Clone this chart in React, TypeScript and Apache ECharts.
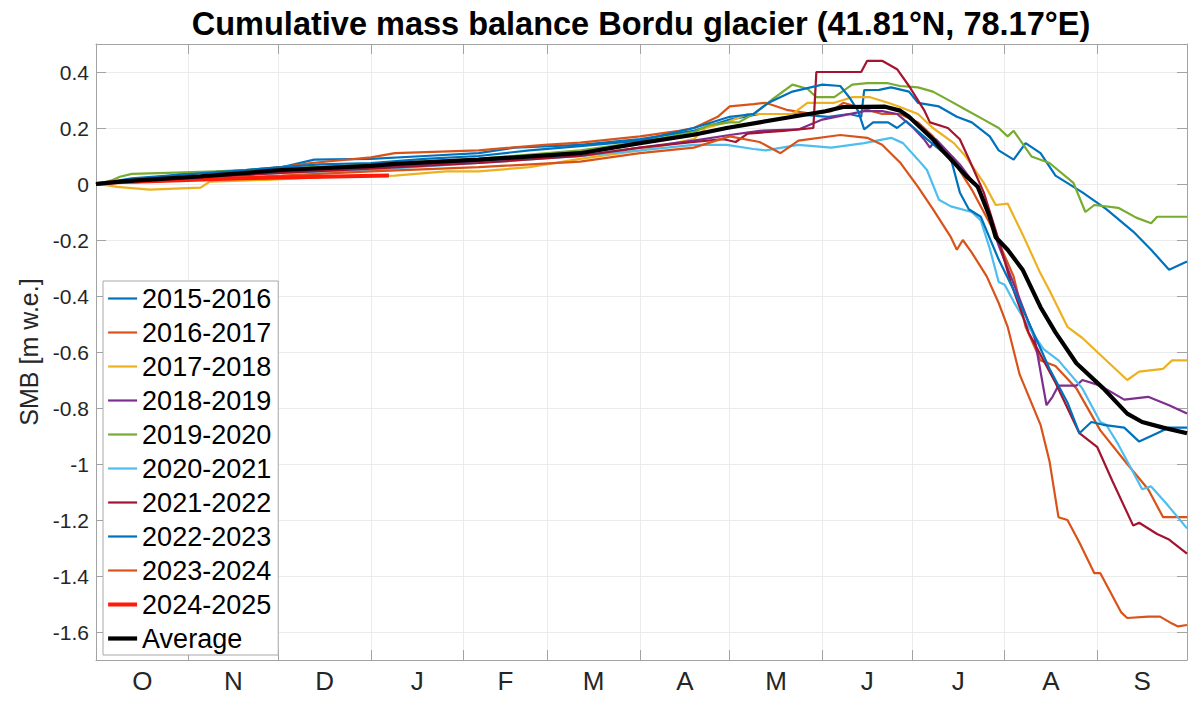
import React, { useEffect, useRef } from "react";
import * as echarts from "echarts";

// days counted from 1 October
const monthLabels = ["O", "N", "D", "J", "F", "M", "A", "M", "J", "J", "A", "S"];
const monthStarts = [0, 31, 61, 92, 123, 151, 182, 212, 243, 273, 304, 335, 365];
const yTicks = [-1.6, -1.4, -1.2, -1, -0.8, -0.6, -0.4, -0.2, 0, 0.2, 0.4];

const smb2015 = [
  [0, 0], [12, 0.015], [25, 0.03], [31, 0.04], [45, 0.045], [62, 0.06], [73, 0.087], [92, 0.09],
  [110, 0.1], [128, 0.11], [140, 0.13], [162, 0.14], [182, 0.16], [200, 0.19], [212, 0.23],
  [222, 0.25], [233, 0.25], [245, 0.24], [252, 0.25], [256, 0.24], [257, 0.335], [262, 0.336],
  [266, 0.345], [272, 0.33], [275, 0.29], [282, 0.277], [288, 0.24], [293, 0.22], [299, 0.17],
  [302, 0.12], [307, 0.087], [311, 0.146], [316, 0.11], [321, 0.03], [330, -0.03], [338, -0.09],
  [347, -0.17], [353, -0.235], [359, -0.306], [365, -0.277],
];
const smb2016 = [
  [0, 0], [10, 0.01], [31, 0.025], [50, 0.045], [62, 0.06], [72, 0.075], [92, 0.095], [100, 0.11],
  [128, 0.12], [150, 0.14], [162, 0.148], [182, 0.17], [195, 0.19], [200, 0.2], [208, 0.24],
  [212, 0.277], [220, 0.285], [224, 0.29], [231, 0.265], [240, 0.25], [246, 0.26], [250, 0.29],
  [258, 0.265], [263, 0.25], [269, 0.25], [275, 0.22], [280, 0.17], [286, 0.098], [293, -0.02],
  [300, -0.16], [307, -0.33], [311, -0.51], [316, -0.63], [321, -0.65], [328, -0.73], [336, -0.88],
  [345, -1.0], [352, -1.09], [357, -1.19], [365, -1.19],
];
const smb2017 = [
  [0, 0], [4, -0.005], [7, -0.01], [18, -0.02], [35, -0.013], [38, 0.008], [57, 0.015], [79, 0.026],
  [100, 0.03], [117, 0.045], [128, 0.045], [145, 0.06], [162, 0.09], [182, 0.12], [200, 0.16],
  [204, 0.2], [211, 0.22], [218, 0.25], [225, 0.25], [233, 0.25], [238, 0.29], [247, 0.29],
  [253, 0.31], [259, 0.31], [265, 0.29], [269, 0.275], [275, 0.25], [280, 0.2], [287, 0.146],
  [291, 0.098], [297, 0.004], [301, -0.075], [305, -0.07], [310, -0.18], [316, -0.32], [319, -0.38],
  [325, -0.51], [330, -0.55], [339, -0.64], [345, -0.7], [349, -0.67], [357, -0.66], [360, -0.63],
  [365, -0.63],
];
const smb2018 = [
  [0, 0], [15, 0.01], [31, 0.02], [50, 0.035], [62, 0.045], [92, 0.06], [128, 0.08], [162, 0.1],
  [182, 0.13], [200, 0.155], [212, 0.175], [222, 0.19], [235, 0.195], [243, 0.23], [257, 0.26],
  [263, 0.26], [268, 0.25], [273, 0.205], [277, 0.16], [279, 0.13], [281, 0.16], [289, 0.07],
  [296, -0.03], [302, -0.22], [309, -0.41], [314, -0.55], [318, -0.79], [320, -0.76], [322, -0.72],
  [328, -0.72], [330, -0.7], [336, -0.72], [344, -0.77], [352, -0.76], [359, -0.79], [365, -0.82],
];
const smb2019 = [
  [0, 0], [5, 0.012], [8, 0.026], [12, 0.036], [24, 0.04], [40, 0.045], [62, 0.055], [92, 0.07],
  [128, 0.09], [162, 0.12], [182, 0.15], [200, 0.185], [205, 0.21], [212, 0.22], [215, 0.22],
  [220, 0.25], [226, 0.3], [233, 0.355], [238, 0.34], [241, 0.31], [247, 0.31], [253, 0.355],
  [258, 0.36], [265, 0.36], [269, 0.35], [275, 0.345], [280, 0.33], [286, 0.295], [291, 0.265],
  [297, 0.23], [302, 0.2], [305, 0.17], [307, 0.19], [313, 0.098], [319, 0.075], [327, 0.004],
  [331, -0.1], [334, -0.075], [342, -0.085], [348, -0.12], [353, -0.14], [355, -0.117], [365, -0.117],
];
const smb2020 = [
  [0, 0], [15, 0.01], [31, 0.02], [62, 0.04], [92, 0.05], [128, 0.075], [162, 0.1], [182, 0.12],
  [200, 0.14], [211, 0.14], [220, 0.125], [224, 0.12], [235, 0.14], [246, 0.13], [257, 0.146],
  [266, 0.165], [270, 0.146], [275, 0.087], [278, 0.05], [282, -0.056], [286, -0.08], [293, -0.1],
  [296, -0.13], [299, -0.23], [302, -0.35], [304, -0.36], [307, -0.42], [312, -0.51], [317, -0.59],
  [322, -0.63], [330, -0.73], [336, -0.85], [338, -0.86], [342, -0.93], [346, -1.01], [350, -1.09],
  [353, -1.08], [358, -1.14], [365, -1.23],
];
const smb2021 = [
  [0, 0], [15, 0.01], [31, 0.02], [62, 0.04], [92, 0.055], [128, 0.075], [162, 0.1], [182, 0.13],
  [200, 0.15], [210, 0.16], [214, 0.15], [218, 0.18], [230, 0.19], [240, 0.2], [241, 0.4],
  [252, 0.4], [256, 0.4], [258, 0.44], [263, 0.44], [268, 0.41], [272, 0.35], [277, 0.265],
  [279, 0.22], [285, 0.2], [289, 0.16], [292, 0.09], [297, -0.03], [302, -0.2], [306, -0.35],
  [312, -0.53], [321, -0.71], [329, -0.89], [335, -0.94], [340, -1.06], [347, -1.22], [349, -1.21],
  [355, -1.25], [359, -1.27], [365, -1.32],
];
const smb2022 = [
  [0, 0], [12, 0.02], [31, 0.035], [50, 0.05], [62, 0.06], [75, 0.07], [92, 0.075], [110, 0.09],
  [128, 0.1], [145, 0.12], [162, 0.135], [182, 0.155], [200, 0.2], [212, 0.24], [220, 0.25],
  [225, 0.29], [233, 0.33], [243, 0.355], [249, 0.35], [252, 0.31], [255, 0.26], [257, 0.195],
  [260, 0.22], [265, 0.22], [268, 0.2], [271, 0.225], [278, 0.16], [286, 0.09], [289, -0.03],
  [292, -0.09], [296, -0.117], [302, -0.27], [308, -0.4], [314, -0.54], [319, -0.66], [325, -0.78],
  [329, -0.89], [333, -0.85], [337, -0.86], [344, -0.87], [349, -0.92], [355, -0.89], [359, -0.87],
  [365, -0.87],
];
const smb2023 = [
  [0, 0], [10, 0.005], [31, 0.015], [62, 0.03], [92, 0.045], [128, 0.06], [162, 0.08], [182, 0.11],
  [200, 0.13], [212, 0.17], [222, 0.15], [229, 0.11], [235, 0.155], [249, 0.175], [258, 0.165],
  [263, 0.14], [269, 0.077], [275, -0.01], [280, -0.09], [286, -0.19], [288, -0.235], [290, -0.2],
  [293, -0.245], [298, -0.33], [302, -0.425], [305, -0.51], [309, -0.68], [316, -0.86], [319, -0.99],
  [322, -1.19], [325, -1.2], [329, -1.28], [334, -1.39], [336, -1.39], [339, -1.45], [343, -1.53],
  [345, -1.55], [352, -1.545], [356, -1.545], [360, -1.57], [362, -1.58], [365, -1.575],
];
const smb2024 = [
  [0, 0], [6, 0.006], [18, 0.01], [46, 0.02], [80, 0.027], [98, 0.03],
];
const smbAverage = [
  [0, 0], [10, 0.01], [35, 0.027], [62, 0.05], [92, 0.065], [100, 0.072], [128, 0.087], [162, 0.11],
  [182, 0.146], [200, 0.176], [211, 0.2], [222, 0.22], [233, 0.24], [244, 0.26], [250, 0.275],
  [264, 0.276], [269, 0.262], [272, 0.24], [276, 0.2], [280, 0.16], [283, 0.122], [287, 0.077],
  [291, 0.03], [295, -0.01], [299, -0.117], [301, -0.19], [305, -0.235], [310, -0.306], [316, -0.44],
  [321, -0.53], [328, -0.64], [337, -0.73], [345, -0.82], [350, -0.85], [357, -0.87], [365, -0.89],
];

const seriesList = [
  { name: "2015-2016", data: smb2015, color: "#0072BD", width: 2.2 },
  { name: "2016-2017", data: smb2016, color: "#D95319", width: 2.2 },
  { name: "2017-2018", data: smb2017, color: "#EDB120", width: 2.2 },
  { name: "2018-2019", data: smb2018, color: "#7E2F8E", width: 2.2 },
  { name: "2019-2020", data: smb2019, color: "#77AC30", width: 2.2 },
  { name: "2020-2021", data: smb2020, color: "#4DBEEE", width: 2.2 },
  { name: "2021-2022", data: smb2021, color: "#A2142F", width: 2.2 },
  { name: "2022-2023", data: smb2022, color: "#0072BD", width: 2.2 },
  { name: "2023-2024", data: smb2023, color: "#D95319", width: 2.2 },
  { name: "2024-2025", data: smb2024, color: "#FF1A0A", width: 4 },
  { name: "Average", data: smbAverage, color: "#000000", width: 4.2 },
];

const FONT = "Liberation Sans, Arial, Helvetica, sans-serif";
const AXIS_GRAY = "#a3a3a3";

const monthCenters = monthStarts.slice(0, -1).map((s, i) => (s + monthStarts[i + 1]) / 2);

const App = () => {
  const chartRef = useRef<HTMLDivElement>(null);

  useEffect(() => {
    if (!chartRef.current) return;
    const chart = echarts.init(chartRef.current, null, { renderer: "svg" });
    chart.setOption({
      animation: false,
      backgroundColor: "#ffffff",
      title: {
        text: "Cumulative mass balance Bordu glacier (41.81°N, 78.17°E)",
        left: 641,
        textAlign: "center",
        top: 7,
        padding: 0,
        textStyle: { fontFamily: FONT, fontSize: 32.5, fontWeight: "bold", color: "#000" },
      },
      grid: { left: 96, right: 13, top: 44, bottom: 41, containLabel: false },
      legend: {
        orient: "vertical",
        left: 103,
        top: 281,
        selectedMode: false,
        backgroundColor: "#ffffff",
        borderColor: "#a8a8a8",
        borderWidth: 1,
        borderRadius: 0,
        padding: [4, 7, 3, 3],
        itemGap: 7,
        itemWidth: 29,
        itemHeight: 14,
        itemStyle: { opacity: 0 },
        textStyle: { fontFamily: FONT, fontSize: 27, lineHeight: 27, color: "#000" },
        data: seriesList.map((s) => ({
          name: s.name,
          lineStyle: { color: s.color, width: s.width },
        })),
      },
      xAxis: [
        {
          type: "value",
          min: 0,
          max: 365,
          position: "bottom",
          axisLine: { show: true, onZero: false, lineStyle: { color: AXIS_GRAY, width: 1 } },
          axisTick: {
            show: true,
            inside: true,
            length: 10,
            customValues: monthStarts,
            lineStyle: { color: AXIS_GRAY },
          },
          axisLabel: {
            customValues: monthCenters,
            margin: 8,
            fontFamily: FONT,
            fontSize: 26,
            color: "#262626",
            formatter: (v: number) => {
              const i = monthCenters.findIndex((c) => Math.abs(c - v) < 0.01);
              return i >= 0 ? monthLabels[i] : "";
            },
          },
          splitLine: { show: true, lineStyle: { color: "#ebebeb", width: 1 } },
        },
        {
          type: "value",
          min: 0,
          max: 365,
          position: "top",
          axisLine: { show: true, onZero: false, lineStyle: { color: AXIS_GRAY, width: 1 } },
          axisTick: {
            show: true,
            inside: true,
            length: 10,
            customValues: monthStarts,
            lineStyle: { color: AXIS_GRAY },
          },
          axisLabel: { show: false },
          splitLine: { show: false },
        },
      ],
      yAxis: [
        {
          type: "value",
          min: -1.7,
          max: 0.5,
          position: "left",
          name: "SMB [m w.e.]",
          nameLocation: "middle",
          nameGap: 54,
          nameTextStyle: { fontFamily: FONT, fontSize: 25, color: "#262626" },
          axisLine: { show: true, onZero: false, lineStyle: { color: AXIS_GRAY, width: 1 } },
          axisTick: {
            show: true,
            inside: true,
            length: 10,
            customValues: yTicks,
            lineStyle: { color: AXIS_GRAY },
          },
          axisLabel: {
            customValues: yTicks,
            margin: 7,
            fontFamily: FONT,
            fontSize: 21,
            color: "#262626",
            formatter: (v: number) => String(Math.round(v * 10) / 10),
          },
          splitLine: { show: true, lineStyle: { color: "#ebebeb", width: 1 } },
        },
        {
          type: "value",
          min: -1.7,
          max: 0.5,
          position: "right",
          axisLine: { show: true, onZero: false, lineStyle: { color: AXIS_GRAY, width: 1 } },
          axisTick: {
            show: true,
            inside: true,
            length: 10,
            customValues: yTicks,
            lineStyle: { color: AXIS_GRAY },
          },
          axisLabel: { show: false },
          splitLine: { show: false },
        },
      ],
      series: seriesList.map((s, i) => ({
        name: s.name,
        type: "line",
        xAxisIndex: 0,
        yAxisIndex: 0,
        data: s.data,
        symbol: "none",
        showSymbol: false,
        silent: true,
        z: 2 + i,
        itemStyle: { color: s.color },
        lineStyle: { color: s.color, width: s.width },
      })),
    });
    return () => {
      chart.dispose();
    };
  }, []);

  return (
    <div
      ref={chartRef}
      style={{ position: "fixed", left: 0, top: 0, width: "1200px", height: "701px" }}
      aria-label="Cumulative mass balance Bordu glacier"
    />
  );
};

export default App;
